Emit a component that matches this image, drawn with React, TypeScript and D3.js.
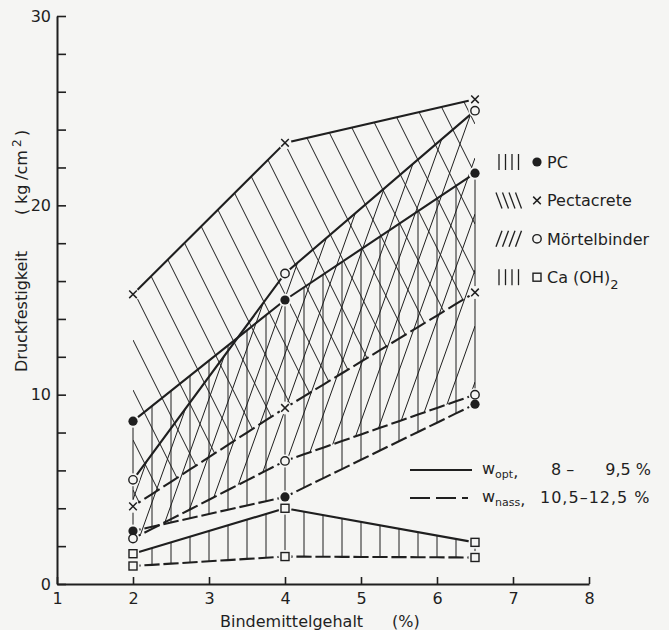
import React, { useEffect, useRef } from 'react';
import * as d3 from 'd3';

// Bindemittelgehalt (%) and Druckfestigkeit (kg/cm2)
const bindemittel = [2, 4, 6.5];
const pcOpt = [8.6, 15.0, 21.7];
const pcNass = [2.8, 4.6, 9.5];
const pectOpt = [15.3, 23.3, 25.6];
const pectNass = [4.1, 9.3, 15.4];
const moertOpt = [5.5, 16.4, 25.0];
const moertNass = [2.4, 6.5, 10.0];
const caOpt = [1.6, 4.0, 2.2];
const caNass = [0.95, 1.45, 1.4];

const xTicks = [1, 2, 3, 4, 5, 6, 7, 8];
const yTicks = d3.range(0, 31, 2);
const yLabels = [0, 10, 20, 30];

const legendItems = [
  { name: 'PC', sub: '', marker: 'dot', hatch: 'vert' },
  { name: 'Pectacrete', sub: '', marker: 'cross', hatch: 'back' },
  { name: 'Mörtelbinder', sub: '', marker: 'ring', hatch: 'fwd' },
  { name: 'Ca (OH)', sub: '2', marker: 'square', hatch: 'vert' },
];

const W = 669;
const H = 630;
const BG = '#f5f5f3';
const INK = '#1f1f1f';
const FONT = '"DejaVu Sans", sans-serif';

export default function App() {
  const svgRef = useRef<SVGSVGElement>(null);

  useEffect(() => {
    if (!svgRef.current) return;
    d3.select(svgRef.current).selectAll('*').remove();

    const svg = d3.select(svgRef.current).attr('width', W).attr('height', H);
    svg.append('rect').attr('width', W).attr('height', H).attr('fill', BG);

    const x = d3.scaleLinear().domain([1, 8]).range([57, 589]);
    const y = d3.scaleLinear().domain([0, 30]).range([584, 16]);

    const interp = (vals: number[]) => d3.scaleLinear().domain(bindemittel).range(vals);
    const hatchX = d3.range(bindemittel[0], bindemittel[2] + 1e-9, 0.25);
    const lineGen = d3.line<[number, number]>();

    const pts = (vals: number[]) =>
      bindemittel.map((b, i) => [x(b), y(vals[i])] as [number, number]);

    // clip polygons for slanted hatching
    const defs = svg.append('defs');
    const addClip = (id: string, top: number[], bottom: number[]) => {
      const poly = pts(top).concat(pts(bottom).reverse());
      defs.append('clipPath').attr('id', id)
        .append('path').attr('d', lineGen(poly) + 'Z');
    };
    addClip('clip-pect', pectOpt, pectNass);
    addClip('clip-moert', moertOpt, moertNass);

    const hatch = svg.append('g').attr('stroke', INK).attr('stroke-width', 1).attr('fill', 'none');

    // Pectacrete: backslash hatching
    const x0 = x(bindemittel[0]), x1 = x(bindemittel[2]);
    const gPect = hatch.append('g').attr('clip-path', 'url(#clip-pect)');
    const sB = 2.0;
    d3.range(-26 - 50 * 20, 700, 50).forEach(c => {
      gPect.append('line')
        .attr('x1', x0).attr('y1', sB * x0 + c)
        .attr('x2', x1).attr('y2', sB * x1 + c);
    });

    // Mörtelbinder: forward slash hatching
    const gMoert = hatch.append('g').attr('clip-path', 'url(#clip-moert)');
    const sF = 2.8;
    d3.range(200, 2400, 56).forEach(c => {
      gMoert.append('line')
        .attr('x1', x0).attr('y1', -sF * x0 + c)
        .attr('x2', x1).attr('y2', -sF * x1 + c);
    });

    // PC and Ca(OH)2: vertical hatching
    const verticals = (top: number[], bottom: number[]) => {
      const t = interp(top), b = interp(bottom);
      hatchX.forEach(v => {
        hatch.append('line')
          .attr('x1', x(v)).attr('x2', x(v))
          .attr('y1', y(t(v))).attr('y2', y(b(v)));
      });
    };
    verticals(pcOpt, pcNass);
    verticals(caOpt, caNass);

    // boundary lines
    const bounds = svg.append('g').attr('stroke', INK).attr('stroke-width', 2.1).attr('fill', 'none')
      .attr('stroke-linecap', 'butt');
    [pcOpt, pectOpt, moertOpt, caOpt].forEach(vals => {
      bounds.append('path').attr('d', lineGen(pts(vals)));
    });
    // dashed lines: one dash centred on each hatch position
    [pcNass, pectNass, moertNass, caNass].forEach(vals => {
      const f = interp(vals);
      hatchX.forEach(v => {
        const a = Math.max(bindemittel[0], v - 0.1);
        const b = Math.min(bindemittel[2], v + 0.1);
        const seg = [a, v, b].map(d => [x(d), y(f(d))] as [number, number]);
        bounds.append('path').attr('d', lineGen(seg));
      });
    });

    // markers
    const drawMarker = (g: any, type: string, cx: number, cy: number) => {
      if (type === 'dot') {
        g.append('circle').attr('cx', cx).attr('cy', cy).attr('r', 4.6).attr('fill', INK);
      } else if (type === 'ring') {
        g.append('circle').attr('cx', cx).attr('cy', cy).attr('r', 4.2)
          .attr('fill', BG).attr('stroke', INK).attr('stroke-width', 1.4);
      } else if (type === 'square') {
        g.append('rect').attr('x', cx - 4).attr('y', cy - 4).attr('width', 8).attr('height', 8)
          .attr('fill', BG).attr('stroke', INK).attr('stroke-width', 1.4);
      } else {
        const r = 3.8;
        g.append('path')
          .attr('d', `M${cx - r},${cy - r}L${cx + r},${cy + r}M${cx + r},${cy - r}L${cx - r},${cy + r}`)
          .attr('stroke', INK).attr('stroke-width', 1.5);
      }
    };

    const series = [
      { vals: pcOpt, m: 'dot' }, { vals: pcNass, m: 'dot' },
      { vals: pectOpt, m: 'cross' }, { vals: pectNass, m: 'cross' },
      { vals: moertOpt, m: 'ring' }, { vals: moertNass, m: 'ring' },
      { vals: caOpt, m: 'square' }, { vals: caNass, m: 'square' },
    ];
    const halos = svg.append('g');
    series.forEach(s => pts(s.vals).forEach(p => {
      halos.append('circle').attr('cx', p[0]).attr('cy', p[1]).attr('r', 6.5).attr('fill', BG);
    }));
    const marks = svg.append('g');
    series.forEach(s => pts(s.vals).forEach(p => drawMarker(marks, s.m, p[0], p[1])));

    // axes
    const yAxis = d3.axisLeft(y).tickValues(yTicks).tickSize(-9).tickSizeOuter(0).tickPadding(6)
      .tickFormat(d => (yLabels.includes(+d) ? String(d) : ''));
    const xAxis = d3.axisBottom(x).tickValues(xTicks).tickSize(-7).tickSizeOuter(0).tickPadding(9)
      .tickFormat(d => String(d));

    const styleAxis = (g: any) => {
      g.select('.domain').attr('stroke', INK).attr('stroke-width', 2);
      g.selectAll('.tick line').attr('stroke', INK).attr('stroke-width', 1.6);
      g.selectAll('text').attr('fill', INK).attr('font-family', FONT).attr('font-size', 16);
    };
    svg.append('g').attr('transform', `translate(${x(1)},0)`).call(yAxis).call(styleAxis);
    svg.append('g').attr('transform', `translate(0,${y(0)})`).call(xAxis).call(styleAxis);

    // axis titles
    const txt = (g: any, s: string, tx: number, ty: number, size = 16, anchor = 'start') =>
      g.append('text').attr('x', tx).attr('y', ty).attr('font-family', FONT).attr('font-size', size)
        .attr('fill', INK).attr('text-anchor', anchor).text(s);

    txt(svg, 'Bindemittelgehalt', 220, 627);
    txt(svg, '(%)', 392, 627);

    const yt = svg.append('g').attr('transform', 'translate(27,0) rotate(-90)');
    txt(yt, 'Druckfestigkeit', -372, 0);
    txt(yt, '(', -215, 0);
    txt(yt, 'kg', -204, 0);
    txt(yt, '/cm', -180, 0);
    txt(yt, '2', -147, -6, 12);
    txt(yt, ')', -136, 0);

    // legend: materials
    const leg = svg.append('g');
    legendItems.forEach((it, i) => {
      const cy = 162 + i * 38.4;
      d3.range(4).forEach(j => {
        const lx = 499 + j * 6.5;
        let d = `M${lx},${cy - 8}L${lx},${cy + 8}`;
        if (it.hatch === 'back') d = `M${lx - 3},${cy - 8}L${lx + 3},${cy + 8}`;
        if (it.hatch === 'fwd') d = `M${lx + 3},${cy - 8}L${lx - 3},${cy + 8}`;
        leg.append('path').attr('d', d).attr('stroke', INK).attr('stroke-width', 1.3);
      });
      drawMarker(leg, it.marker, 537, cy);
      const t = txt(leg, it.name, 547, cy + 6);
      if (it.sub) t.append('tspan').attr('dy', 6).attr('font-size', 13).text(it.sub);
    });

    // legend: water content
    leg.append('line').attr('x1', 410).attr('x2', 472).attr('y1', 470).attr('y2', 470)
      .attr('stroke', INK).attr('stroke-width', 2.1);
    leg.append('line').attr('x1', 410).attr('x2', 470).attr('y1', 498).attr('y2', 498)
      .attr('stroke', INK).attr('stroke-width', 2.1).attr('stroke-dasharray', '20,6,20,6,6');

    const w1 = txt(leg, 'w', 482, 474);
    w1.append('tspan').attr('dy', 4).attr('font-size', 11).text('opt');
    w1.append('tspan').attr('dy', -1).text(',');
    txt(leg, '8 –', 551, 475);
    txt(leg, '9,5 %', 651, 475, 16, 'end');

    const w2 = txt(leg, 'w', 482, 502);
    w2.append('tspan').attr('dy', 4).attr('font-size', 11).text('nass');
    w2.append('tspan').attr('dy', -1).text(',');
    txt(leg, '10,5–12,5 %', 540, 503).attr('letter-spacing', 1);
  }, []);

  return (
    <div style={{ position: 'fixed', left: 0, top: 0 }}>
      <svg ref={svgRef} style={{ display: 'block' }}></svg>
    </div>
  );
}
